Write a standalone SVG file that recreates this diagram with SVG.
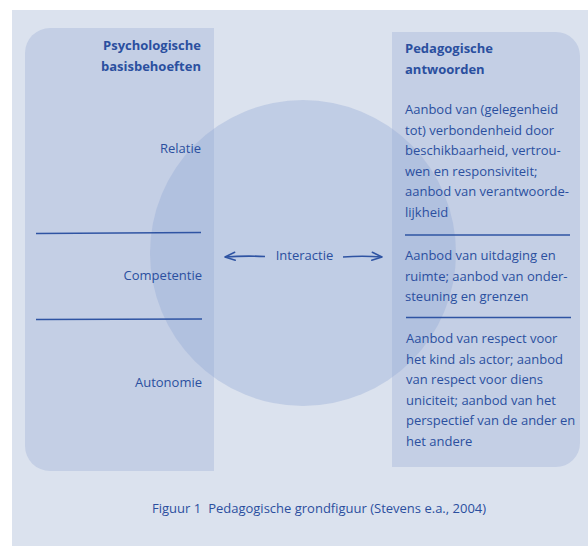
<svg xmlns="http://www.w3.org/2000/svg" width="588" height="546" viewBox="0 0 588 546">
  <defs>
    <marker id="ah" viewBox="0 0 12 10" refX="11" refY="5" markerWidth="12" markerHeight="10" markerUnits="userSpaceOnUse" orient="auto">
      <path d="M1,1 L11,5 L1,9" fill="none" stroke="#2f54a3" stroke-width="1.6" stroke-linecap="round" stroke-linejoin="round"/>
    </marker>
  </defs>
  <style>
    text { font-family: "Open Sans", "Noto Sans", "DejaVu Sans", sans-serif; fill: #2b4f9f; }
    .h { font-weight: bold; font-size: 13px; }
    .b { font-size: 13px; }
    .r { text-anchor: end; }
    .div { stroke: #2f54a3; stroke-width: 1.6; fill: none; }
    .panel { fill: #c4cfe5; }
    .conn { stroke: #2f54a3; stroke-width: 1.6; fill: none; marker-end: url(#ah); }
  </style>
  <rect x="0" y="0" width="588" height="546" fill="#ffffff"/>
  <rect x="12" y="10" width="576" height="536" fill="#dbe2ee"/>

  <g id="left-panel">
    <path class="panel" d="M50,28 H214 V471 H50 A25,25 0 0 1 25,446 V53 A25,25 0 0 1 50,28 Z"/>
  </g>
  <g id="right-panel">
    <path class="panel" d="M392,32 H556 A24,24 0 0 1 580,56 V443 A24,24 0 0 1 556,467 H392 Z"/>
  </g>

  <g id="circle-interactie">
    <circle cx="303" cy="253" r="153" fill="#8fa6d3" fill-opacity="0.35"/>
  </g>

  <g id="left-panel-labels">
    <text class="h r" x="201" y="50">Psychologische</text>
    <text class="h r" x="201" y="71">basisbehoeften</text>
    <text class="b r" x="201" y="153">Relatie</text>
    <line class="div" x1="36" y1="233.5" x2="201" y2="232.5"/>
    <text class="b r" x="202" y="280">Competentie</text>
    <line class="div" x1="36" y1="319.5" x2="202" y2="319"/>
    <text class="b r" x="202" y="387">Autonomie</text>
  </g>

  <g id="right-panel-labels">
    <text class="h" x="405" y="53">Pedagogische</text>
    <text class="h" x="405" y="74">antwoorden</text>
    <text class="b" x="405" y="114">Aanbod van (gelegenheid</text>
    <text class="b" x="405" y="134.5">tot) verbondenheid door</text>
    <text class="b" x="405" y="155">beschikbaarheid, vertrou-</text>
    <text class="b" x="405" y="175.5">wen en responsiviteit;</text>
    <text class="b" x="405" y="196">aanbod van verantwoorde-</text>
    <text class="b" x="405" y="216.5">lijkheid</text>
    <line class="div" x1="405" y1="235" x2="570" y2="235"/>
    <text class="b" x="405" y="260">Aanbod van uitdaging en</text>
    <text class="b" x="405" y="280.5">ruimte; aanbod van onder-</text>
    <text class="b" x="405" y="301">steuning en grenzen</text>
    <line class="div" x1="406" y1="317.5" x2="571" y2="317.5"/>
    <text class="b" x="406" y="343">Aanbod van respect voor</text>
    <text class="b" x="406" y="363.5">het kind als actor; aanbod</text>
    <text class="b" x="406" y="384">van respect voor diens</text>
    <text class="b" x="406" y="404.5">uniciteit; aanbod van het</text>
    <text class="b" x="406" y="425">perspectief van de ander en</text>
    <text class="b" x="406" y="445.5">het andere</text>
  </g>

  <g id="interactie-label">
    <text class="b" x="304.5" y="260" text-anchor="middle">Interactie</text>
  </g>

  <g id="connectors">
    <path class="conn" d="M265,256.5 Q245,255.5 225,257"/>
    <path class="conn" d="M343,257 Q362,255.5 382,257"/>
  </g>

  <g id="caption">
    <text x="152" y="513" style="font-size:13px">Figuur 1<tspan dx="7">Pedagogische grondfiguur (Stevens e.a., 2004)</tspan></text>
  </g>
</svg>
